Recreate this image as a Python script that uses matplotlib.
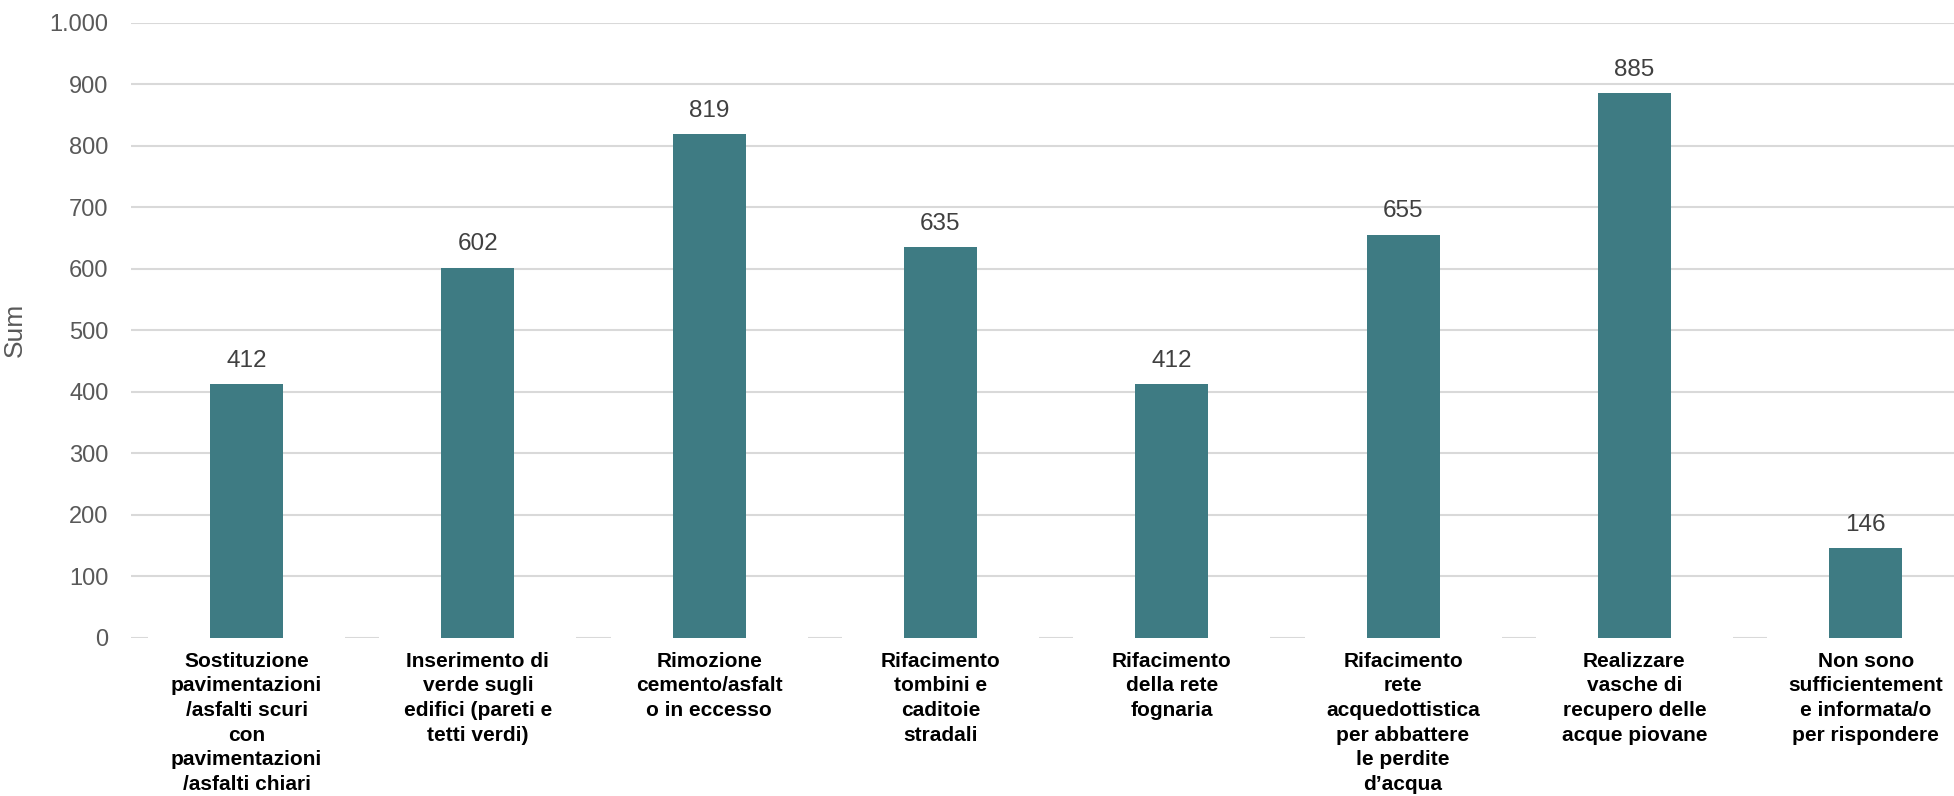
import numpy as np
import matplotlib.pyplot as plt
from matplotlib.ticker import FuncFormatter

plt.rcParams['font.family'] = ['Liberation Sans', 'DejaVu Sans']

# dati del grafico
categorie = [
    "Sostituzione\npavimentazioni\n/asfalti scuri\ncon\npavimentazioni\n/asfalti chiari",
    "Inserimento di\nverde sugli\nedifici (pareti e\ntetti verdi)",
    "Rimozione\ncemento/asfalt\no in eccesso",
    "Rifacimento\ntombini e\ncaditoie\nstradali",
    "Rifacimento\ndella rete\nfognaria",
    "Rifacimento\nrete\nacquedottistica\nper abbattere\nle perdite\nd\u2019acqua",
    "Realizzare\nvasche di\nrecupero delle\nacque piovane",
    "Non sono\nsufficientement\ne informata/o\nper rispondere",
]
valori = [412, 602, 819, 635, 412, 655, 885, 146]
y_ticks = [0, 100, 200, 300, 400, 500, 600, 700, 800, 900, 1000]

colore_barre = '#3E7B83'
colore_griglia = '#D9D9D9'

fig = plt.figure(figsize=(19.54, 7.96), dpi=100)
ax = fig.add_axes([0.067, 0.1985, 0.933, 0.773])

x = np.arange(len(categorie))
barre = ax.bar(x, valori, width=0.316, color=colore_barre, zorder=3)
ax.bar_label(barre, padding=9, fontsize=17.5, color='#404040')

ax.set_xlim(-0.5, 7.382)
ax.set_ylim(0, 1000)
ax.set_yticks(y_ticks)
# separatore delle migliaia all'italiana
ax.yaxis.set_major_formatter(FuncFormatter(lambda v, p: f"{v:,.0f}".replace(",", ".")))

# griglia orizzontale (lo zero lo disegniamo a pezzi, coperto dalle etichette)
for v in y_ticks[1:]:
    ax.axhline(v, color=colore_griglia, lw=1.5, zorder=0)
meta = 0.426
inizio = np.concatenate([[-0.5], x[:-1] + meta])
fine = np.concatenate([[-meta], x[1:] - meta])
ax.hlines(np.zeros(len(inizio)), inizio, fine, color=colore_griglia, lw=1.5, zorder=0)

ax.set_xticks(x)
ax.set_xticklabels(categorie, fontsize=15, fontweight='bold', color='black',
                   linespacing=1.37, va='top')
ax.tick_params(axis='x', length=0, pad=10)
ax.tick_params(axis='y', length=0, pad=16, labelsize=17, labelcolor='#595959')

ax.set_ylabel('Sum', fontsize=19, color='#595959')
ax.yaxis.set_label_coords(-0.057, 0.5)

for s in ax.spines.values():
    s.set_visible(False)

fig.savefig('out.png', dpi=100)
